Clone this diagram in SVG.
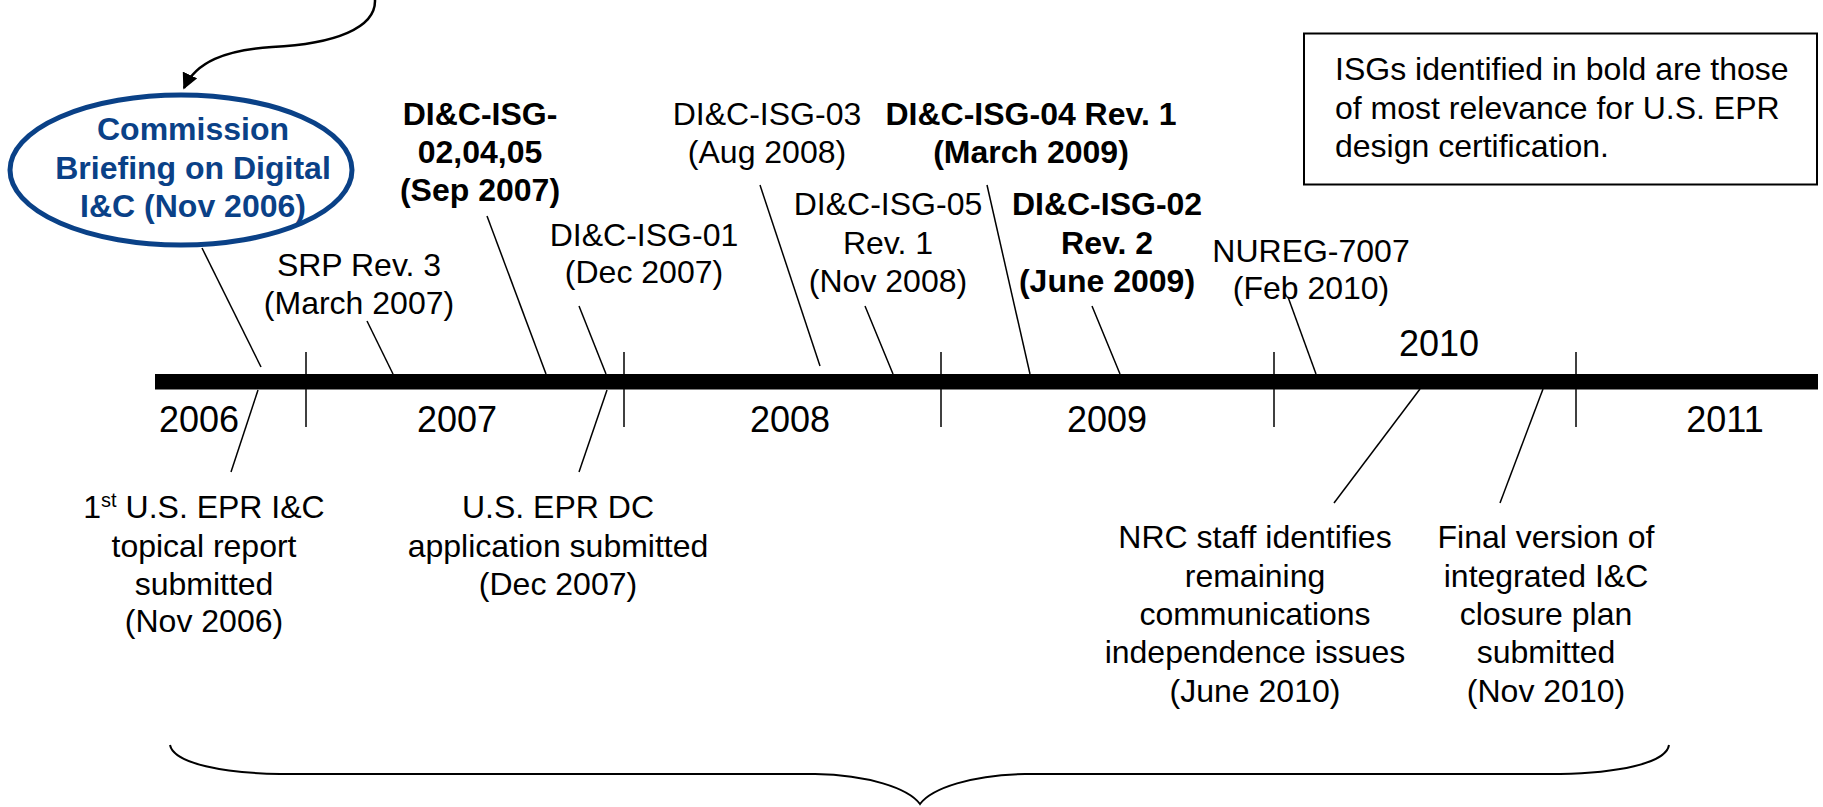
<svg xmlns="http://www.w3.org/2000/svg" width="1823" height="807" viewBox="0 0 1823 807">
<style>
text{font-family:"Liberation Sans",Arial,sans-serif;font-size:32px;fill:#000;text-anchor:middle}
.b{font-weight:bold}
.blue{fill:#0A4187;font-weight:bold}
.yr{font-size:36px}
.l{text-anchor:start}
.ld{stroke:#000;stroke-width:1.5;fill:none}
</style>
<defs>
<marker id="ah" viewBox="0 0 10 10" refX="9" refY="5" markerWidth="16" markerHeight="16" markerUnits="userSpaceOnUse" orient="auto">
<path d="M0,0 L10,5 L0,10 Z" fill="#000"/>
</marker>
</defs>
<rect width="1823" height="807" fill="#fff"/>

<g id="connectors">
<path class="ld" d="M375,0 C376,28 335,44 272,47 C225,50 196,62 184,88" marker-end="url(#ah)" style="stroke-width:2.5"/>
<line class="ld" x1="202" y1="248" x2="261" y2="367"/>
<line class="ld" x1="258" y1="390" x2="231" y2="472"/>
<line class="ld" x1="367" y1="321" x2="393" y2="374"/>
<line class="ld" x1="487" y1="216" x2="546" y2="374"/>
<line class="ld" x1="579" y1="306" x2="606" y2="374"/>
<line class="ld" x1="607" y1="390" x2="579" y2="472"/>
<line class="ld" x1="760" y1="185" x2="820" y2="366"/>
<line class="ld" x1="865" y1="306" x2="893" y2="374"/>
<line class="ld" x1="987" y1="185" x2="1030" y2="374"/>
<line class="ld" x1="1092" y1="306" x2="1120" y2="374"/>
<line class="ld" x1="1288" y1="297" x2="1316" y2="374"/>
<line class="ld" x1="1420" y1="389" x2="1334" y2="503"/>
<line class="ld" x1="1543" y1="389" x2="1500" y2="503"/>
</g>

<g id="timeline">
<rect x="155" y="374" width="1663" height="15.5" fill="#000"/>
<line class="ld" x1="306" y1="352" x2="306" y2="427"/>
<line class="ld" x1="624" y1="352" x2="624" y2="427"/>
<line class="ld" x1="941" y1="352" x2="941" y2="427"/>
<line class="ld" x1="1274" y1="352" x2="1274" y2="427"/>
<line class="ld" x1="1576" y1="352" x2="1576" y2="427"/>
<text class="yr" x="199" y="432">2006</text>
<text class="yr" x="457" y="432">2007</text>
<text class="yr" x="790" y="432">2008</text>
<text class="yr" x="1107" y="432">2009</text>
<text class="yr" x="1439" y="356">2010</text>
<text class="yr" x="1725" y="432">2011</text>
</g>

<g id="commission">
<ellipse cx="181" cy="170" rx="171" ry="75" fill="#fff" stroke="#0A4187" stroke-width="5"/>
<text class="blue" x="193" y="140">Commission</text>
<text class="blue" x="193" y="179">Briefing on Digital</text>
<text class="blue" x="193" y="217">I&amp;C (Nov 2006)</text>
</g>

<g id="srp">
<text x="359" y="276">SRP Rev. 3</text>
<text x="359" y="314">(March 2007)</text>
</g>

<g id="isg020405">
<text class="b" x="480" y="125">DI&amp;C-ISG-</text>
<text class="b" x="480" y="163">02,04,05</text>
<text class="b" x="480" y="201">(Sep 2007)</text>
</g>

<g id="isg01">
<text x="644" y="246">DI&amp;C-ISG-01</text>
<text x="644" y="283">(Dec 2007)</text>
</g>

<g id="isg03">
<text x="767" y="125">DI&amp;C-ISG-03</text>
<text x="767" y="163">(Aug 2008)</text>
</g>

<g id="isg04r1">
<text class="b" x="1031" y="125">DI&amp;C-ISG-04 Rev. 1</text>
<text class="b" x="1031" y="163">(March 2009)</text>
</g>

<g id="isg05r1">
<text x="888" y="215">DI&amp;C-ISG-05</text>
<text x="888" y="254">Rev. 1</text>
<text x="888" y="292">(Nov 2008)</text>
</g>

<g id="isg02r2">
<text class="b" x="1107" y="215">DI&amp;C-ISG-02</text>
<text class="b" x="1107" y="254">Rev. 2</text>
<text class="b" x="1107" y="292">(June 2009)</text>
</g>

<g id="nureg">
<text x="1311" y="262">NUREG-7007</text>
<text x="1311" y="299">(Feb 2010)</text>
</g>

<g id="topical">
<text x="204" y="518">1<tspan font-size="20" dy="-11">st</tspan><tspan dy="11"> U.S. EPR I&amp;C</tspan></text>
<text x="204" y="557">topical report</text>
<text x="204" y="595">submitted</text>
<text x="204" y="632">(Nov 2006)</text>
</g>

<g id="dcapp">
<text x="558" y="518">U.S. EPR DC</text>
<text x="558" y="557">application submitted</text>
<text x="558" y="595">(Dec 2007)</text>
</g>

<g id="nrcstaff">
<text x="1255" y="548">NRC staff identifies</text>
<text x="1255" y="587">remaining</text>
<text x="1255" y="625">communications</text>
<text x="1255" y="663">independence issues</text>
<text x="1255" y="702">(June 2010)</text>
</g>

<g id="closure">
<text x="1546" y="548">Final version of</text>
<text x="1546" y="587">integrated I&amp;C</text>
<text x="1546" y="625">closure plan</text>
<text x="1546" y="663">submitted</text>
<text x="1546" y="702">(Nov 2010)</text>
</g>

<g id="note">
<rect x="1304" y="33.5" width="513" height="151" fill="#fff" stroke="#000" stroke-width="2"/>
<text class="l" x="1335" y="80">ISGs identified in bold are those</text>
<text class="l" x="1335" y="119">of most relevance for U.S. EPR</text>
<text class="l" x="1335" y="157">design certification.</text>
</g>

<g id="brace">
<path d="M170,745 C174,764 225,773 280,774 L815,774 C868,775 908,788 920,804 C932,788 972,775 1025,774 L1560,774 C1615,773 1666,764 1669,745" fill="none" stroke="#000" stroke-width="2"/>
</g>
</svg>
